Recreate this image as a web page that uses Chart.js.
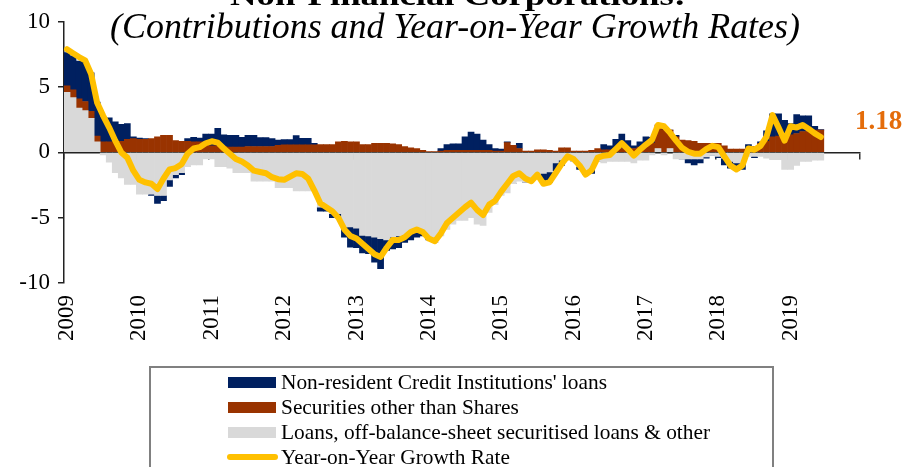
<!DOCTYPE html>
<html>
<head>
<meta charset="utf-8">
<script src="https://cdn.jsdelivr.net/npm/chart.js@4.4.1/dist/chart.umd.min.js"></script>
<style>
html,body{margin:0;padding:0;background:#fff;}
#wrap{position:relative;width:905px;height:467px;overflow:hidden;}
</style>
</head>
<body>
<div id="wrap"><canvas id="c" width="905" height="467"></canvas></div>
<script>
// ---- Data (monthly, Jan 2009 - Jun 2019), percentage points ----
const yearLabels = ['2009','2010','2011','2012','2013','2014','2015','2016','2017','2018','2019'];
const monthNames = ['Jan','Feb','Mar','Apr','May','Jun','Jul','Aug','Sep','Oct','Nov','Dec'];

const seriesNames = [
  "Non-resident Credit Institutions' loans",
  "Securities other than Shares",
  "Loans, off-balance-sheet securitised loans & other",
  "Year-on-Year Growth Rate"
];

const nonResident = [
  2.55, 2.6, 2.9, 3.0, 2.95, 2.6, 1.9, 1.85, 1.55, 1.3, 1.2, 0.15,
  0.1, 0.05, -0.1, -0.6, -0.4, -0.5, -0.25, -0.15, 0.2, 0.35, 0.3, 0.8,
  0.9, 1.35, 0.9, 0.9, 0.9, 0.75, 0.85, 0.85, 0.68, 0.68, 0.6, 0.4,
  0.4, 0.4, 0.7, 0.5, 0.5, 0.12, -0.3, -0.3, -0.3, -0.3, -0.8, -1.55,
  -1.5, -1.35, -1.35, -1.9, -2.3, -0.8, -0.9, -0.9, -0.6, -0.7, -0.6, -0.3,
  -0.1, 0, 0.2, 0.45, 0.5, 0.5, 1.05, 1.4, 1.25, 0.8, 0.45, 0.2,
  0.15, 0.05, 0, 0.4, 0, 0, 0, -0.8, -0.8, -0.6, -0.4, 0,
  0, -0.2, -0.3, -0.4, 0, 0.4, 0.3, 0.7, 1.1, 0.6, 0.2, 0.4,
  0.7, 0.45, 0, 0.25, 0, 0.1, 0, -0.3, -0.45, -0.3, -0.1, 0,
  -0.1, -0.5, -0.5, -0.6, -0.5, 0.3, -0.1, 0.1, 0.8, 1.75, 1.7, 1.15,
  0.85, 1.45, 1.2, 1.2, 0.3, 0.05
];

const securities = [
  0.5, 0.6, 0.7, 0.7, 0.55, 0.45, 0.8, 0.8, 0.8, 0.85, 1.0, 1.05,
  1.0, 1.0, 1.05, 1.2, 1.3, 1.3, 0.9, 0.85, 0.85, 0.8, 0.8, 0.6,
  0.5, 0.5, 0.45, 0.4, 0.4, 0.4, 0.45, 0.45, 0.45, 0.45, 0.45, 0.55,
  0.58, 0.58, 0.58, 0.58, 0.58, 0.58, 0.6, 0.6, 0.6, 0.8, 0.85, 0.8,
  0.8, 0.6, 0.6, 0.7, 0.7, 0.7, 0.65, 0.6, 0.45, 0.35, 0.3, 0.15,
  0.05, 0.05, 0.1, 0.15, 0.15, 0.15, 0.15, 0.15, 0.15, 0.15, 0.15, 0.1,
  0.1, 0.75, 0.55, 0.3, 0.1, 0.1, 0.2, 0.2, 0.15, 0.1, 0.35, 0.35,
  0.1, 0.1, 0.1, 0.15, 0.3, 0.2, 0.2, 0.3, 0.3, 0.3, 0.3, 0.4,
  0.5, 0.7, 1.8, 1.75, 1.4, 1.2, 0.95, 0.9, 0.85, 0.7, 0.7, 0.7,
  0.7, 0.5, 0.25, 0.25, 0.25, 0.3, 0.45, 0.7, 0.85, 1.2, 1.25, 1.3,
  1.35, 1.45, 1.6, 1.6, 1.7, 1.7
];

const loansOther = [
  4.6, 4.2, 3.4, 3.2, 2.6, 0.8, -0.2, -0.75, -1.55, -1.95, -2.45, -2.45,
  -3.2, -3.2, -3.2, -3.3, -3.3, -2.1, -1.7, -1.55, -1.1, -0.95, -0.95, -0.5,
  -0.5, -1.1, -1.1, -1.2, -1.55, -1.55, -1.55, -2.2, -2.2, -2.2, -2.2, -2.7,
  -2.7, -2.7, -2.95, -2.95, -2.95, -2.95, -4.2, -4.2, -4.7, -4.7, -5.7, -5.7,
  -5.8, -6.35, -6.4, -6.5, -6.6, -6.7, -6.5, -6.4, -6.3, -6.0, -5.9, -6.1,
  -6.6, -6.9, -6.4, -5.9, -5.5, -5.2, -5.2, -5.0, -5.5, -5.6, -4.6, -4.0,
  -3.3, -3.1, -2.4, -2.2, -2.3, -2.0, -2.0, -1.6, -1.5, -0.8, -0.6, -0.5,
  -0.7, -1.1, -1.4, -1.2, -0.7, -0.8, -0.7, -0.7, -0.7, -0.7, -0.8, -0.6,
  -0.6, -0.2, 0.3, -0.2, 0.3, -0.5, -0.5, -0.5, -0.5, -0.5, -0.35, -0.2,
  -0.3, -0.45, -0.7, -0.8, -0.8, -0.3, -0.3, -0.3, -0.45, -0.55, -0.55, -1.3,
  -1.3, -1.0, -0.7, -0.7, -0.6, -0.6
];

const yoyGrowth = [
  7.9, 7.6, 7.3, 7.05, 6.0, 3.8, 2.8, 1.9, 0.9, 0.0, -0.4, -1.4,
  -2.1, -2.3, -2.4, -2.8, -2.0, -1.3, -1.2, -0.9, -0.1, 0.3, 0.4, 0.7,
  0.85, 0.75, 0.3, -0.1, -0.5, -0.7, -1.0, -1.4, -1.5, -1.6, -1.9, -2.05,
  -2.1, -1.85, -1.6, -1.65, -2.0, -2.9, -3.9, -4.2, -4.5, -5.0, -5.9, -6.4,
  -6.6, -7.0, -7.4, -7.8, -8.0, -7.3, -6.7, -6.7, -6.5, -6.1, -5.9, -6.1,
  -6.6, -6.8, -6.2, -5.4, -5.0, -4.6, -4.2, -3.85, -4.4, -4.8, -4.0, -3.7,
  -3.0, -2.4, -1.8, -1.6, -2.0, -2.2, -1.7, -2.4, -2.3, -1.6, -0.9, -0.3,
  -0.5, -1.0, -1.7, -1.35, -0.4, -0.25, -0.2, 0.25, 0.7, 0.25, -0.25, 0.2,
  0.6, 0.95, 2.1, 2.0, 1.5, 0.9, 0.35, 0.05, -0.1, -0.1, 0.25, 0.5,
  0.4, -0.3, -1.0, -1.3, -1.0, 0.3, 0.2, 0.5, 1.2, 2.85, 1.9, 0.9,
  2.0, 1.9, 2.1, 1.8, 1.45, 1.18
];

const titleText = 'Non-Financial Corporations:';
const subtitleText = '(Contributions and Year-on-Year Growth Rates)';

// month categories spanning the axis (2009-2019, 132 months)
const monthLabels = [];
yearLabels.forEach(y => monthNames.forEach(m => monthLabels.push(m + ' ' + y)));

const COLORS = { navy: '#002060', brown: '#993300', grey: '#D9D9D9', gold: '#FFC000', accent: '#E46C0A' };
const FONT = '"Liberation Serif", "Times New Roman", serif';

function drawFitted(ctx, text, font, cx, baseline, width) {
  ctx.save();
  ctx.font = font;
  ctx.fillStyle = '#000';
  ctx.textAlign = 'center';
  ctx.textBaseline = 'alphabetic';
  const w = ctx.measureText(text).width;
  ctx.translate(cx, baseline);
  ctx.scale(width / w, 1);
  ctx.fillText(text, 0, 0);
  ctx.restore();
}

const decor = {
  id: 'decor',
  afterDraw(chart) {
    const { ctx, chartArea, scales } = chart;
    // titles
    drawFitted(ctx, titleText, 'bold 30px ' + FONT, 458, 5, 456);
    drawFitted(ctx, subtitleText, 'italic 35px ' + FONT, 455, 38, 690);

    // last value label
    const last = yoyGrowth[yoyGrowth.length - 1];
    const yPix = scales.y.getPixelForValue(last);
    ctx.save();
    ctx.font = 'bold 27px ' + FONT;
    ctx.fillStyle = COLORS.accent;
    ctx.textAlign = 'left';
    ctx.textBaseline = 'middle';
    ctx.fillText(last.toFixed(2), chartArea.right - 5, yPix - 15);
    ctx.restore();

    // legend box
    ctx.save();
    ctx.strokeStyle = '#808080';
    ctx.lineWidth = 2;
    ctx.strokeRect(150, 367, 623, 110);
    const items = [
      { name: seriesNames[0], color: COLORS.navy, kind: 'box' },
      { name: seriesNames[1], color: COLORS.brown, kind: 'box' },
      { name: seriesNames[2], color: COLORS.grey, kind: 'box' },
      { name: seriesNames[3], color: COLORS.gold, kind: 'line' }
    ];
    ctx.font = '21px ' + FONT;
    const sx = 326 / ctx.measureText(seriesNames[0]).width;
    ctx.textAlign = 'left';
    ctx.textBaseline = 'middle';
    items.forEach((it, k) => {
      const cy = 382 + k * 25;
      if (it.kind === 'box') {
        ctx.fillStyle = it.color;
        ctx.fillRect(228, cy - 5, 48, 11);
      } else {
        ctx.strokeStyle = it.color;
        ctx.lineWidth = 6;
        ctx.lineCap = 'round';
        ctx.beginPath();
        ctx.moveTo(230, cy);
        ctx.lineTo(275, cy);
        ctx.stroke();
      }
      ctx.save();
      ctx.fillStyle = '#000';
      ctx.translate(281, cy + 1);
      ctx.scale(sx, 1);
      ctx.fillText(it.name, 0, 0);
      ctx.restore();
    });
    ctx.restore();
  }
};

const ctx = document.getElementById('c').getContext('2d');
new Chart(ctx, {
  type: 'bar',
  data: {
    labels: monthLabels,
    datasets: [
      { type: 'line', label: seriesNames[3], data: yoyGrowth, borderColor: COLORS.gold, backgroundColor: COLORS.gold,
        borderWidth: 6, pointRadius: 0, tension: 0, borderJoinStyle: 'round', borderCapStyle: 'round',
        order: 0, stack: 'line', fill: false },
      { label: seriesNames[2], data: loansOther, backgroundColor: COLORS.grey, order: 1, stack: 'contrib' },
      { label: seriesNames[1], data: securities, backgroundColor: COLORS.brown, order: 1, stack: 'contrib' },
      { label: seriesNames[0], data: nonResident, backgroundColor: COLORS.navy, order: 1, stack: 'contrib' }
    ]
  },
  options: {
    responsive: false,
    animation: false,
    devicePixelRatio: 1,
    layout: { padding: { left: 0, right: 45, top: 19, bottom: 0 } },
    datasets: { bar: { barPercentage: 1, categoryPercentage: 1, borderWidth: 0 } },
    plugins: { legend: { display: false }, tooltip: { enabled: false }, title: { display: false } },
    scales: {
      x: {
        type: 'category', stacked: true, offset: true,
        grid: { display: false, drawTicks: false },
        border: { display: false },
        ticks: {
          autoSkip: false, minRotation: 90, maxRotation: 90, padding: 12,
          color: '#000', font: { family: FONT, size: 23 },
          callback: (v, i) => (i % 12 === 0 ? yearLabels[i / 12] : '')
        },
        afterFit: s => { s.height = 184; s.paddingLeft = 0; s.paddingRight = 0; }
      },
      x2: {
        type: 'category', offset: true, position: { y: 0 }, z: 1,
        ticks: { display: false },
        grid: {
          offset: true, drawOnChartArea: false, drawTicks: true, tickLength: 6, lineWidth: 1.5,
          tickColor: c => (c.type !== 'tick' || c.index % 12 === 0) ? '#333' : 'rgba(0,0,0,0)',
          color: c => (c.type !== 'tick' || c.index % 12 === 0) ? '#333' : 'rgba(0,0,0,0)'
        },
        border: { display: true, color: '#222', width: 1.5 }
      },
      y: {
        stacked: true, min: -10, max: 10,
        ticks: { stepSize: 5, color: '#000', padding: 8, font: { family: FONT, size: 23 } },
        grid: { drawOnChartArea: false, tickLength: 6, color: '#222', lineWidth: 1.5 },
        border: { display: true, color: '#222', width: 1.5 },
        afterFit: s => { s.width = 64; }
      }
    }
  },
  plugins: [decor]
});
</script>
</body>
</html>
